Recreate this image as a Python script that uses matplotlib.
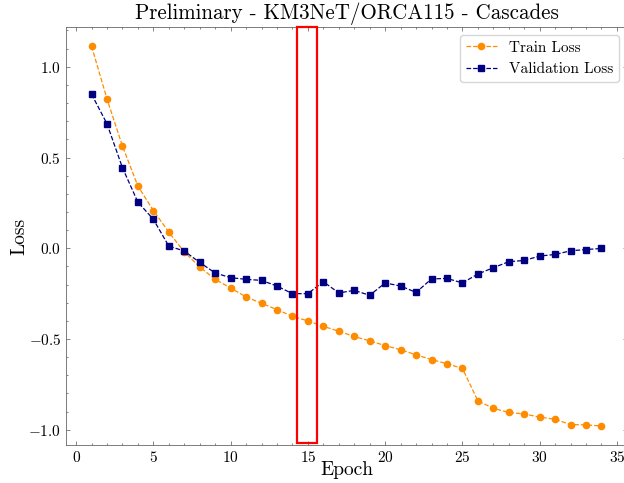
import matplotlib
matplotlib.use("Agg")
import matplotlib.pyplot as plt
from matplotlib.patches import Rectangle
from matplotlib.ticker import MultipleLocator

epochs = list(range(1, 35))
train_loss = [1.114, 0.823, 0.563, 0.343, 0.208, 0.089, -0.020, -0.103, -0.171, -0.219,
              -0.268, -0.303, -0.338, -0.375, -0.400, -0.430, -0.457, -0.486, -0.510, -0.536,
              -0.559, -0.587, -0.613, -0.636, -0.662, -0.840, -0.882, -0.904, -0.913, -0.930,
              -0.942, -0.971, -0.973, -0.979]
val_loss = [0.849, 0.686, 0.444, 0.254, 0.160, 0.012, -0.015, -0.078, -0.136, -0.162,
            -0.171, -0.177, -0.208, -0.250, -0.250, -0.184, -0.246, -0.232, -0.259, -0.191,
            -0.208, -0.243, -0.169, -0.166, -0.191, -0.142, -0.107, -0.074, -0.067, -0.043,
            -0.034, -0.014, -0.007, -0.001]

title = "Preliminary - KM3NeT/ORCA115 - Cascades"

plt.rcParams['font.family'] = 'cmr10'
plt.rcParams['mathtext.fontset'] = 'cm'
plt.rcParams['axes.formatter.use_mathtext'] = True

fig = plt.figure(figsize=(6.24, 4.83), dpi=100)
ax = fig.add_axes([0.1058, 0.0787, 0.899, 0.8653])

ax.plot(epochs, train_loss, linestyle='--', marker='o', color='darkorange',
        markersize=4.5, linewidth=0.9, label='Train Loss')
ax.plot(epochs, val_loss, linestyle='--', marker='s', color='navy',
        markersize=4.3, linewidth=0.9, label='Validation Loss')

ax.set_title(title, fontsize=15.1, pad=5.5)
ax.set_xlabel('Epoch', fontsize=14, labelpad=-2.5)
ax.set_ylabel('Loss', fontsize=14, labelpad=0)

ax.xaxis.set_major_locator(MultipleLocator(5))
ax.xaxis.set_minor_locator(MultipleLocator(1))
ax.yaxis.set_major_locator(MultipleLocator(0.5))
ax.yaxis.set_minor_locator(MultipleLocator(0.1))
ax.tick_params(which='both', direction='in', top=True, right=True, labelsize=11,
               color='#555555', width=0.5)
ax.tick_params(which='major', length=3)
ax.tick_params(which='minor', length=1.5)
for s in ax.spines.values():
    s.set_linewidth(0.6)
    s.set_color('#666666')

# highlight box around epoch 15
ylo, yhi = ax.get_ylim()
ax.add_patch(Rectangle((14.3, -1.07), 1.3, yhi + 1.07, fill=False,
                       edgecolor='red', linewidth=1.6, clip_on=False, zorder=5))
ax.set_ylim(ylo, yhi)

ax.legend(loc='upper right', fontsize=11)

fig.savefig('out.png', dpi=100)
